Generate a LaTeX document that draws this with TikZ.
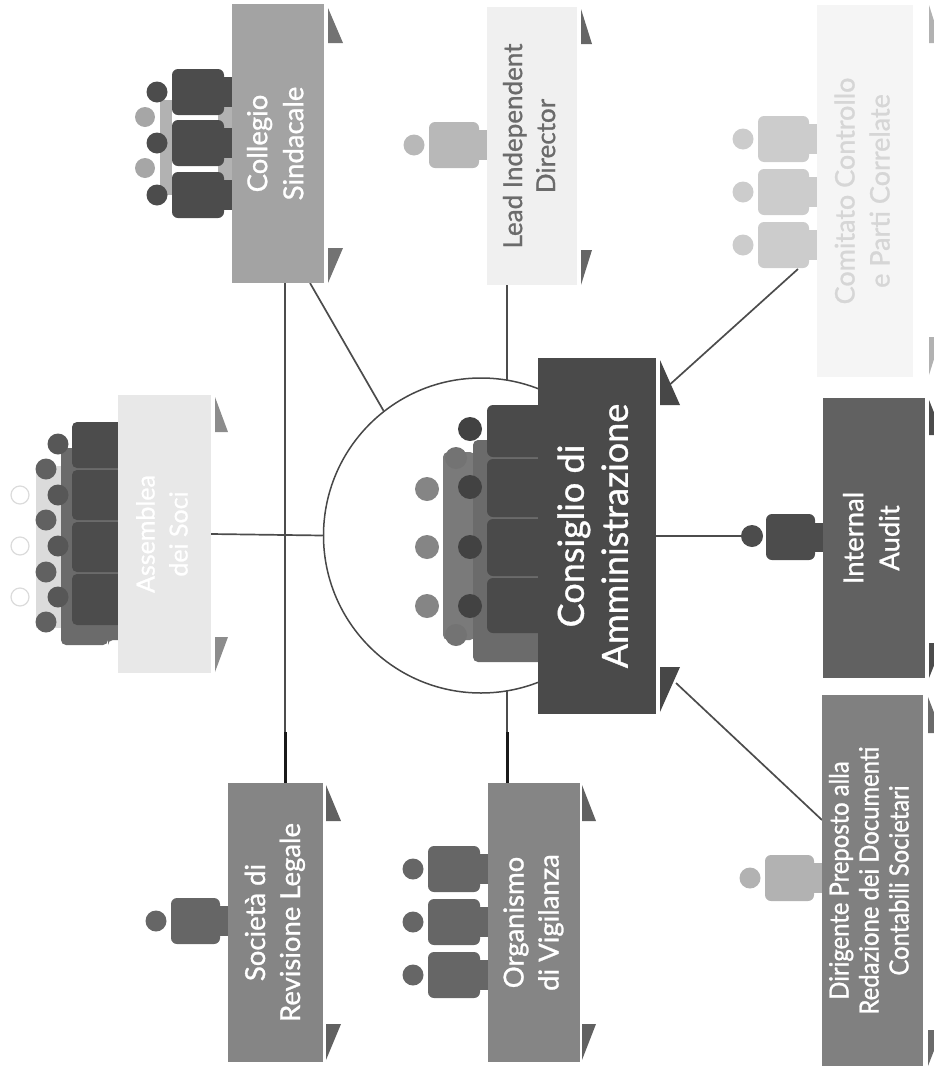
\documentclass[tikz,border=0pt]{standalone}
\usepackage{fontspec}
\setmainfont{Lato}[FakeBold=1.0]
\newfontfamily\narrowlato{Lato}[FakeBold=1.0,FakeStretch=0.9]
\usetikzlibrary{calc}
\pgfdeclarelayer{under}
\pgfsetlayers{under,main}
\tikzset{
  boxnode/.style={rectangle,inner sep=0pt,outer sep=0pt,align=center},
  conn/.style={draw=black!70,line width=1.7pt},
  connthick/.style={draw=black!90,line width=3pt},
}
\definecolor{cda}{gray}{.29}
\definecolor{coll}{gray}{.64}
\definecolor{soc}{gray}{.52}
\definecolor{audit}{gray}{.38}
\definecolor{dirig}{gray}{.50}
\definecolor{asm}{gray}{.91}
\definecolor{leadb}{gray}{.94}
\definecolor{comi}{gray}{.96}
\newcommand\lbl[3]{\rotatebox{90}{\fontsize{#1}{#2}\selectfont\begin{tabular}{@{}c@{}}#3\end{tabular}}}
% name, x0, y0, x1, y1, fill, text colour, label
\newcommand\orgbox[8]{\node[boxnode,fill=#6,text=#7,minimum width={(#4-#2)*1pt},minimum height={(#5-#3)*1pt}] (#1) at ({(#2+#4)/2},{(#3+#5)/2}) {#8};}
% x, ytop, ybottom, colour, width, height
\newcommand\tris[6]{\fill[#4] (#1,#2) -- ({#1+#5},{#2+#6}) -- (#1,{#2+#6}) -- cycle;
  \fill[#4] (#1,#3) -- ({#1+#5},{#3-#6}) -- (#1,{#3-#6}) -- cycle;}
% head x, y, box edge x, colour
\newcommand\person[4]{\fill[#4] (#1,#2) circle[radius=10.5pt];
  \fill[#4,rounded corners=6pt] ({#1+15},{#2-23}) rectangle ({#3-8},{#2+23});
  \fill[#4] ({#3-12},{#2-15}) rectangle (#3,{#2+15});}
\begin{document}
\begin{tikzpicture}[x=1pt,y=-1pt]
\useasboundingbox (0,0) rectangle (934,1074);
% ---- boxes
\orgbox{asm}{118}{395}{211}{673}{asm}{white}{\lbl{25}{33}{Assemblea\\dei Soci}}
\orgbox{coll}{232}{4}{324}{283}{coll}{white}{\lbl{27.5}{36}{Collegio\\Sindacale}}
\orgbox{lead}{487}{7}{577}{285}{leadb}{black!58}{\lbl{26}{33}{Lead Independent\\Director}}
\orgbox{comi}{817}{5}{913}{377}{comi}{black!16}{\lbl{27}{35}{Comitato Controllo\\e Parti Correlate}}
\orgbox{cda}{538}{358}{656}{714}{cda}{white}{\lbl{36}{44}{Consiglio di\\Amministrazione}}
\orgbox{audit}{823}{398}{925}{678}{audit}{white}{\lbl{27.5}{36}{Internal\\Audit}}
\orgbox{dirig}{822}{695}{923}{1066}{dirig}{white}{\lbl{26.5}{30}{\narrowlato Dirigente Preposto alla\\\narrowlato Redazione dei Documenti\\\narrowlato Contabili Societari}}
\orgbox{soc}{228}{783}{323}{1062}{soc}{white}{\lbl{27.5}{35}{Società di\\Revisione Legale}}
\orgbox{odv}{488}{783}{580}{1062}{soc}{white}{\lbl{27.5}{35}{Organismo\\di Vigilanza}}
% ---- corner triangles
\tris{215}{397}{672}{black!45}{13}{35}
\tris{328}{8}{283}{black!55}{15}{35}
\tris{581}{9}{285}{black!60}{11}{35}
\tris{929}{5}{375}{black!30}{12}{38}
\tris{660}{360}{712}{black!72}{20}{45}
\tris{929}{400}{678}{black!70}{14}{35}
\tris{928}{697}{1066}{black!58}{14}{36}
\tris{326}{785}{1060}{black!62}{15}{36}
\tris{582}{785}{1060}{black!62}{14}{36}
\begin{pgfonlayer}{under}
% ---- central semicircle
\node[circle,draw=black!72,fill=white,line width=1.5pt,minimum size=315pt,inner sep=0pt] (circ) at (481,535.5) {};
% ---- connectors
\coordinate (colx) at (285,600);
\coordinate (colsplit) at (285,732);
\coordinate (odvx) at (507,600);
\coordinate (odvsplit) at (507,732);
\coordinate (iahead) at (752,536);
\coordinate (comiport) at (798,269);
\coordinate (cdatop) at (666,388);
\coordinate (dirport) at (822,820);
\coordinate (cdabot) at (676,683);
\coordinate (collport) at (310,283);
\draw[conn] (colx |- coll.south) -- (colsplit);
\draw[connthick] (colsplit) -- (colx |- soc.north);
\draw[conn] (collport) -- (circ.128);
\draw[conn] (asm.east) -- (circ.west);
\draw[conn] (odvx |- lead.south) -- (odvx |- circ.80.5);
\draw[conn] (odvx |- circ.-80.5) -- (odvsplit);
\draw[connthick] (odvsplit) -- (odvx |- odv.north);
\draw[conn] (comiport) -- (cdatop);
\draw[conn] (dirport) -- (cdabot);
\draw[conn] (cda.east) -- (iahead);
% ---- people: Assemblea
\foreach \y in {495,546,597} {\draw[black!14,line width=1.2pt] (20,\y) circle[radius=9pt];}
\fill[black!14] (36,466) rectangle (70,628);
\fill[black!58,rounded corners=5pt] (61,448) -- (61,645) -- (108,645) -- (108,640) -- (125,640) -- (125,448) -- cycle;
\foreach \y in {469,520,572,622} {\fill[black!62] (46,\y) circle[radius=10.5pt];}
\foreach \y in {444,495,546,597} {\fill[black!66] (58,\y) circle[radius=10.5pt];}
\fill[black!70,rounded corners=5pt] (72,422) rectangle (125,468);
\fill[black!70,rounded corners=5pt] (72,470) rectangle (125,520);
\fill[black!70,rounded corners=5pt] (72,522) rectangle (125,572);
\fill[black!70,rounded corners=5pt] (72,574) rectangle (125,625);
% ---- people: Collegio
\foreach \y in {117,168} {\fill[black!35] (145,\y) circle[radius=10pt];}
\fill[black!30] (160,100) rectangle (172,195);
\fill[black!30] (218,104) rectangle (232,190);
\foreach \y in {92,143,195} {\person{157}{\y}{232}{black!70}}
% ---- people: Lead
\person{414}{145}{487}{black!28}
% ---- people: Comitato
\foreach \y in {139,192,245} {\person{743}{\y}{817}{black!20}}
% ---- people: Consiglio
\foreach \y in {489,547,606} {\fill[black!48] (427,\y) circle[radius=12pt];}
\fill[black!52,rounded corners=5pt] (443,452) rectangle (475,640);
\fill[black!58,rounded corners=5pt] (473,440) rectangle (545,662);
\fill[cda,rounded corners=6pt] (487,405) rectangle (545,457);
\fill[cda,rounded corners=6pt] (487,459) rectangle (545,517);
\fill[cda,rounded corners=6pt] (487,519) rectangle (545,576);
\fill[cda,rounded corners=6pt] (487,578) rectangle (545,633);
\foreach \y in {458,635} {\fill[black!55] (456,\y) circle[radius=11pt];}
\foreach \y in {429,487,547,606} {\fill[black!74] (470,\y) circle[radius=12pt];}
% ---- people: Internal Audit
\fill[black!70] (iahead) circle[radius=11pt];
\fill[black!70,rounded corners=6pt] (766,514) rectangle (815,560);
\fill[black!70] (811,523) rectangle (823,552);
% ---- people: Dirigente
\person{750}{878}{822}{black!30}
% ---- people: Societa
\person{156}{921}{228}{black!60}
% ---- people: Organismo
\foreach \y in {869,922,975} {\person{413}{\y}{488}{black!60}}
\end{pgfonlayer}
\end{tikzpicture}
\end{document}
